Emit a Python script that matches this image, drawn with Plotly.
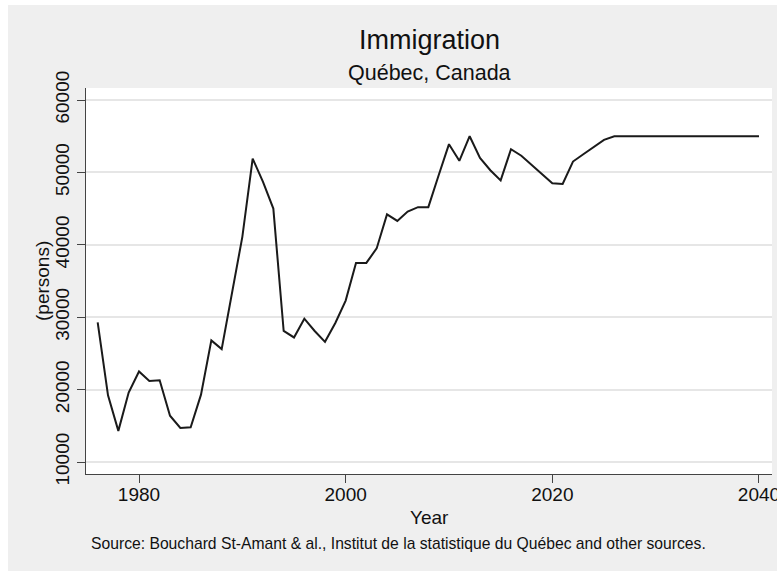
import plotly.graph_objects as go

years = list(range(1976, 2041))
immigration = [
    29300, 19200, 14300, 19600, 22500, 21200, 21300, 16400, 14700, 14800,  # 1976-1985
    19300, 26800, 25600, 33500, 41100, 51900, 48700, 45000, 28100, 27200,  # 1986-1995
    29800, 28100, 26600, 29200, 32300, 37500, 37500, 39500, 44200, 43300,  # 1996-2005
    44600, 45200, 45200, 49600, 53900, 51600, 55000, 52000, 50300, 48900,  # 2006-2015
    53200, 52300, 51000, 49800, 48500, 48400, 51500, 52500, 53500, 54500,  # 2016-2025
    55000, 55000, 55000, 55000, 55000, 55000, 55000, 55000, 55000, 55000,  # 2026-2035
    55000, 55000, 55000, 55000, 55000,                                      # 2036-2040
]
x_ticks = [1980, 2000, 2020, 2040]
x_tick_labels = ["1980", "2000", "2020", "2040"]
y_ticks = [10000, 20000, 30000, 40000, 50000, 60000]
y_tick_labels = ["10000", "20000", "30000", "40000", "50000", "60000"]

title = "Immigration"
subtitle = "Québec, Canada"
x_title = "Year"
y_title = "(persons)"
source = "Source: Bouchard St-Amant &amp; al., Institut de la statistique du Québec and other sources."

# page offset of the figure inside the window
OX, OY = 8, 5
W, H = 777 - OX, 571 - OY
L, T = 86 - OX, 88 - OY
R = W - (772 - OX)
B = H - (474 - OY)
pw, ph = W - L - R, H - T - B

def px(xw):
    return (xw - OX - L) / pw

def py(yw):
    return (H - B - (yw - OY)) / ph

FONT = "Liberation Sans, Arial, Helvetica, sans-serif"
GRAY = "#efefef"
INK = "#111111"

fig = go.Figure()
fig.add_trace(go.Scatter(
    x=years, y=immigration, mode="lines",
    line=dict(color="#1a1a1a", width=2),
    showlegend=False, hoverinfo="x+y",
))

fig.update_layout(
    width=W, height=H,
    margin=dict(l=L, r=R, t=T, b=B, autoexpand=False),
    paper_bgcolor=GRAY,
    plot_bgcolor="white",
    font=dict(family=FONT, color=INK),
    xaxis=dict(
        range=[1974.87, 2041.26], tickvals=x_ticks, ticktext=x_tick_labels,
        showgrid=False, zeroline=False,
        showline=True, linecolor="#444444", linewidth=1.2,
        ticks="outside", ticklen=8, tickwidth=1.2, tickcolor="#444444",
        ticklabeloverflow="allow", ticklabelstandoff=-5,
        tickfont=dict(size=19, family=FONT, color=INK),
    ),
    yaxis=dict(
        range=[8343, 61657], tickvals=y_ticks, ticktext=y_tick_labels,
        showgrid=True, gridcolor="#e6e6e6", gridwidth=1.5,
        zeroline=False,
        showline=True, linecolor="#444444", linewidth=1.2,
        ticks="outside", ticklen=8, tickwidth=1.2, tickcolor="#444444",
        tickangle=-90, ticklabeloverflow="allow",
        tickfont=dict(size=19, family=FONT, color=INK),
    ),
    annotations=[
        dict(text=title, xref="paper", yref="paper", x=px(429), y=py(40),
             xanchor="center", yanchor="middle", showarrow=False,
             font=dict(size=27, family=FONT, color=INK)),
        dict(text=subtitle, xref="paper", yref="paper", x=px(429), y=py(73),
             xanchor="center", yanchor="middle", showarrow=False,
             font=dict(size=21.5, family=FONT, color=INK)),
        dict(text=x_title, xref="paper", yref="paper", x=px(429), y=py(517),
             xanchor="center", yanchor="middle", showarrow=False,
             font=dict(size=19, family=FONT, color=INK)),
        dict(text=y_title, xref="paper", yref="paper", x=px(42), y=py(281),
             xanchor="center", yanchor="middle", showarrow=False, textangle=-90,
             font=dict(size=19, family=FONT, color=INK)),
        dict(text=source, xref="paper", yref="paper", x=px(89), y=py(543),
             xanchor="left", yanchor="middle", showarrow=False,
             font=dict(size=15.7, family=FONT, color=INK)),
    ],
)

fig.write_html(
    "out.html",
    post_script="document.body.style.margin='%dpx 0 0 %dpx';document.body.style.overflow='hidden';" % (OY, OX),
)
